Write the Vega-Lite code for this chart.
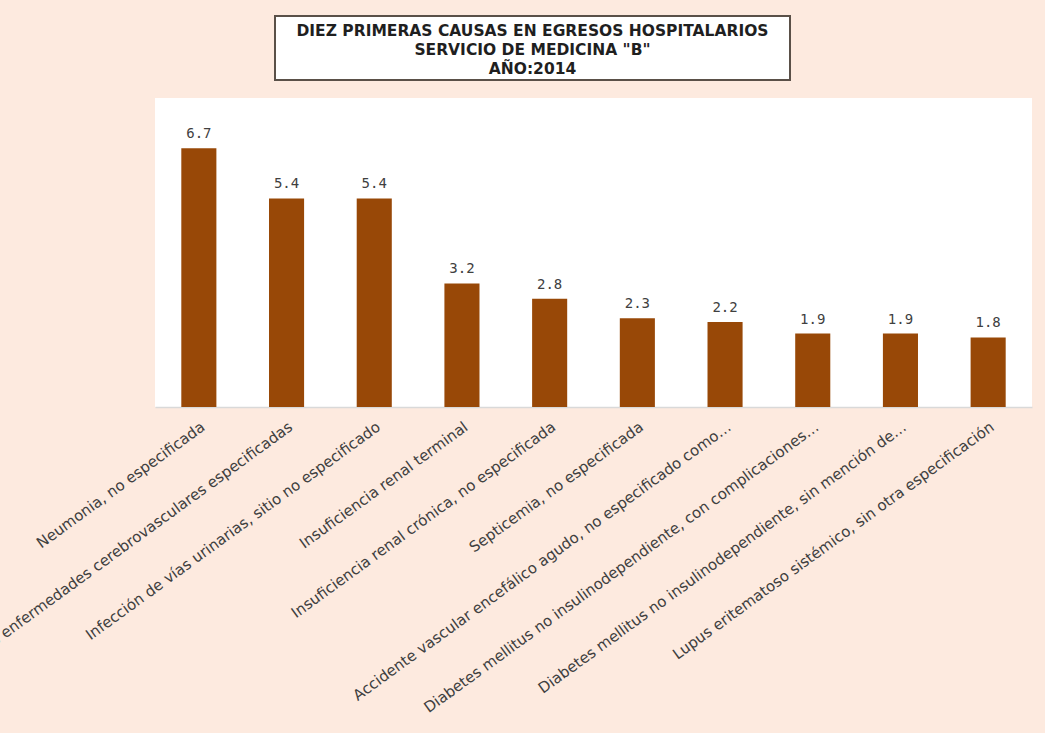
{
  "$schema": "https://vega.github.io/schema/vega-lite/v6.json",
  "background": "#FDEADF",
  "autosize": {"type": "none"},
  "padding": {"left": 155, "top": 16, "right": 890, "bottom": 717},
  "bounds": "flush",
  "spacing": 82,
  "config": {
    "font": "DejaVu Sans"
  },
  "vconcat": [
    {
      "bounds": "flush",
      "spacing": 0,
      "hconcat": [
        {
          "width": 120,
          "height": 64,
          "view": {"stroke": null, "fill": null},
          "data": {"values": []},
          "mark": {"type": "text"},
          "encoding": {}
        },
        {
          "width": 515,
          "height": 64,
          "view": {"stroke": "#5a5048", "strokeWidth": 2, "fill": "white"},
          "data": {"values": [{"t": "DIEZ PRIMERAS CAUSAS EN  EGRESOS HOSPITALARIOS\nSERVICIO DE MEDICINA \"B\"\nAÑO:2014"}]},
          "mark": {"type": "text", "font": "DejaVu Sans", "fontWeight": "bold", "fontSize": 15.5, "lineBreak": "\n", "lineHeight": 19, "align": "center", "baseline": "middle", "dy": -17, "color": "#1f1f1f"},
          "encoding": {"text": {"field": "t", "type": "nominal"}}
        }
      ]
    },
    {
      "width": 877,
      "height": 309,
      "view": {"stroke": null, "fill": "white"},
      "data": {
        "values": [
          {"causa": "Neumonia, no especificada", "valor": 6.7},
          {"causa": "Otras enfermedades cerebrovasculares especificadas", "valor": 5.4},
          {"causa": "Infección de vías urinarias, sitio no especificado", "valor": 5.4},
          {"causa": "Insuficiencia renal terminal", "valor": 3.2},
          {"causa": "Insuficiencia renal crónica, no especificada", "valor": 2.8},
          {"causa": "Septicemia, no especificada", "valor": 2.3},
          {"causa": "Accidente vascular encefálico agudo, no especificado como…", "valor": 2.2},
          {"causa": "Diabetes mellitus no insulinodependiente, con complicaciones…", "valor": 1.9},
          {"causa": "Diabetes mellitus no insulinodependiente, sin mención de…", "valor": 1.9},
          {"causa": "Lupus eritematoso sistémico, sin otra especificación", "valor": 1.8}
        ]
      },
      "encoding": {
        "x": {
          "field": "causa", "type": "nominal", "sort": null, "title": null,
          "scale": {"paddingInner": 0.6, "paddingOuter": 0.3},
          "axis": {
            "labelAngle": -36, "labelFont": "DejaVu Sans", "labelFontSize": 15,
            "labelColor": "#404040", "labelPadding": 12, "labelLimit": 0,
            "ticks": false, "domainColor": "#d9d9d9", "domainWidth": 1.5, "labelOverlap": false
          }
        },
        "y": {
          "field": "valor", "type": "quantitative",
          "scale": {"domain": [0, 8]},
          "axis": null
        }
      },
      "layer": [
        {"mark": {"type": "bar", "color": "#984807"}},
        {
          "mark": {"type": "text", "baseline": "bottom", "dy": -7, "fontSize": 14, "font": "DejaVu Sans Mono", "color": "#404040"},
          "encoding": {"text": {"field": "valor", "type": "quantitative", "format": ".1f"}}
        }
      ]
    }
  ]
}
